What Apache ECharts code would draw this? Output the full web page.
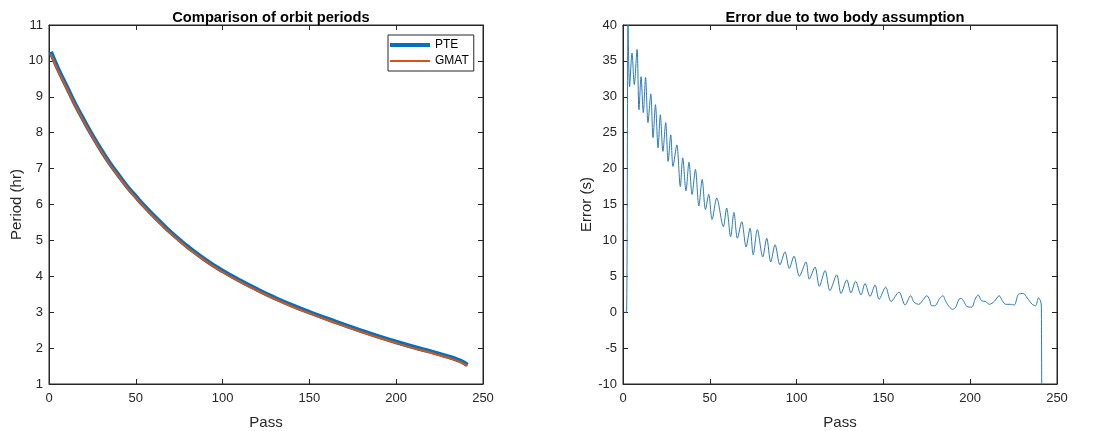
<!DOCTYPE html>
<html>
<head>
<meta charset="utf-8">
<script src="https://cdn.jsdelivr.net/npm/echarts@6/dist/echarts.min.js"></script>
<style>
html,body{margin:0;padding:0;background:#fff;}
#chart{width:1096px;height:431px;}
</style>
</head>
<body>
<div id="chart"></div>
<script>
// ---- Left plot: orbit period (hr) vs pass ----
const periodPass = [1, 5, 10, 15, 20, 25, 30, 35, 40, 45, 50, 55, 60, 65, 70, 75, 80, 90, 100, 110, 120, 130, 140, 150, 160, 170, 180, 190, 200, 210, 220, 225, 230, 235, 238, 241];
const pteValues  = [10.25, 9.8, 9.3, 8.8, 8.35, 7.92, 7.52, 7.15, 6.82, 6.5, 6.22, 5.95, 5.7, 5.46, 5.23, 5.02, 4.82, 4.46, 4.15, 3.88, 3.63, 3.4, 3.19, 3.0, 2.82, 2.65, 2.48, 2.32, 2.17, 2.03, 1.9, 1.83, 1.76, 1.68, 1.62, 1.53];
const gmatValues = [10.19, 9.75, 9.26, 8.77, 8.32, 7.89, 7.49, 7.12, 6.79, 6.47, 6.19, 5.92, 5.67, 5.43, 5.2, 4.99, 4.79, 4.43, 4.12, 3.85, 3.6, 3.37, 3.16, 2.97, 2.79, 2.62, 2.45, 2.29, 2.14, 2.0, 1.87, 1.8, 1.73, 1.65, 1.59, 1.5];

// ---- Right plot: error (s) vs pass ----
const errPass = [1, 2, 2.9, 3.8, 5.2, 6.5, 8.1, 9.2, 10.4, 11.7, 13, 14.4, 16, 17.3, 18.7, 20.2, 21.5, 23, 24.6, 26, 27.5, 28.8, 31, 33, 34.4, 36.3, 38, 39.8, 41.7, 43.7, 45.6, 47.5, 49.4, 51.3, 54, 57.8, 59.7, 62, 63.9, 65.9, 68.4, 70.9, 73.2, 75, 77.4, 80.5, 82.8, 85.1, 87.6, 90.4, 93.3, 95.8, 98.5, 101.6, 105.4, 107.3, 110.6, 113.1, 116.4, 119.2, 123.1, 125.6, 128.9, 131.3, 134, 137.1, 139.4, 142.3, 145.2, 147.5, 151.3, 154.4, 159, 162.5, 165.7, 167.6, 170.4, 173.1, 175, 176.5, 177.8, 179.6, 182.4, 184.3, 186.1, 189.8, 191.7, 193.5, 195, 196.3, 198.1, 200.9, 202.8, 204.6, 206.5, 208.7, 211.1, 213.9, 216.7, 218.5, 220.4, 223.1, 225.4, 227.8, 230.6, 232.8, 235.7, 237.6, 239.4, 240.7, 241, 241.2];
const errValues = [0, 0, 40, 31.4, 36.1, 31.7, 36.6, 28.2, 32.8, 27.8, 32.7, 26.4, 30.4, 24.3, 28.9, 22.9, 27.5, 22.4, 26.4, 21, 24.7, 20.3, 23.3, 17.5, 21.5, 16.9, 20.9, 16.4, 19.9, 14.8, 18.5, 14.3, 16.4, 12.9, 15.9, 11.9, 14.5, 10.5, 13.9, 10.3, 12.6, 9.1, 11.7, 8, 11.5, 7.7, 10.3, 7.0, 9.4, 6.6, 8.4, 6.1, 7.8, 5.0, 7.0, 4.6, 6.3, 3.6, 5.8, 3.0, 5.2, 2.6, 4.5, 2.7, 4.3, 2.4, 4.0, 2.2, 3.8, 1.8, 3.5, 1.5, 2.8, 1.0, 2.3, 1.4, 1.1, 1.8, 2.3, 1.8, 0.9, 0.9, 1.9, 2.3, 1.4, 0.4, 0.7, 1.8, 1.9, 1.5, 0.8, 0.7, 1.8, 2.4, 1.6, 1.5, 1.1, 1.5, 2.3, 1.6, 1.1, 1.1, 1.0, 2.5, 2.6, 2.0, 1.1, 0.9, 2.0, 1.4, 0.6, -12];

// ---- Tick settings ----
const passTicks = {min: 0, max: 250, interval: 50};
const periodTicks = {min: 1, max: 11, interval: 1};
const errTicks = {min: -10, max: 40, interval: 5};

const FONT = 'Liberation Sans, Arial, sans-serif';
const AX = '#262626';

function pairs(xs, ys) { return xs.map((x, i) => [x, ys[i]]); }

function xAx(grid, pos, ticks, showLabel) {
  return {
    type: 'value', gridIndex: grid, position: pos,
    min: ticks.min, max: ticks.max, interval: ticks.interval,
    axisLine: {show: true, onZero: false, lineStyle: {color: AX, width: 1}},
    axisTick: {show: true, inside: true, length: 5, lineStyle: {color: AX}},
    splitLine: {show: false},
    axisLabel: {show: showLabel, fontSize: 13, color: AX, fontFamily: FONT, margin: 8},
    name: showLabel ? 'Pass' : '', nameLocation: 'middle', nameGap: 31,
    nameTextStyle: {fontSize: 15, color: AX, fontFamily: FONT}
  };
}
function yAx(grid, pos, ticks, showLabel, name, gap) {
  return {
    type: 'value', gridIndex: grid, position: pos,
    min: ticks.min, max: ticks.max, interval: ticks.interval,
    axisLine: {show: true, onZero: false, lineStyle: {color: AX, width: 1}},
    axisTick: {show: true, inside: true, length: 5, lineStyle: {color: AX}},
    splitLine: {show: false},
    axisLabel: {show: showLabel, fontSize: 13, color: AX, fontFamily: FONT, margin: 6},
    name: showLabel ? name : '', nameLocation: 'middle', nameGap: gap,
    nameTextStyle: {fontSize: 15, color: AX, fontFamily: FONT}
  };
}

const chart = echarts.init(document.getElementById('chart'), null, {renderer: 'canvas'});
chart.setOption({
  backgroundColor: '#ffffff',
  animation: false,
  title: [
    {text: 'Comparison of orbit periods', left: 266, top: 5, textAlign: 'center',
     textStyle: {fontSize: 14.7, fontWeight: 'bold', color: '#000', fontFamily: FONT}},
    {text: 'Error due to two body assumption', left: 840, top: 5, textAlign: 'center',
     textStyle: {fontSize: 14.7, fontWeight: 'bold', color: '#000', fontFamily: FONT}}
  ],
  legend: {
    data: [
      {name: 'PTE', icon: 'path://M0 0H40V4H0Z'},
      {name: 'GMAT', icon: 'path://M0 0L0.01 0Z M0 1H40V3H0Z M0 4L0.01 4Z'}
    ],
    orient: 'vertical', left: 388, top: 35,
    itemWidth: 40, itemHeight: 4, itemGap: 4,
    padding: [4, 5, 4, 2],
    borderColor: AX, borderWidth: 1, backgroundColor: '#fff',
    textStyle: {fontSize: 12, color: '#000', fontFamily: FONT},
    selectedMode: false
  },
  grid: [
    {left: 49, top: 25, width: 434, height: 359, show: true, borderColor: AX, borderWidth: 1, backgroundColor: '#fff', containLabel: false, outerBoundsMode: 'none'},
    {left: 623, top: 25, width: 434, height: 359, show: true, borderColor: AX, borderWidth: 1, backgroundColor: '#fff', containLabel: false, outerBoundsMode: 'none'}
  ],
  xAxis: [
    xAx(0, 'bottom', passTicks, true),
    xAx(0, 'top', passTicks, false),
    xAx(1, 'bottom', passTicks, true),
    xAx(1, 'top', passTicks, false)
  ],
  yAxis: [
    yAx(0, 'left', periodTicks, true, 'Period (hr)', 24),
    yAx(0, 'right', periodTicks, false, '', 0),
    yAx(1, 'left', errTicks, true, 'Error (s)', 28),
    yAx(1, 'right', errTicks, false, '', 0)
  ],
  series: [
    {name: 'PTE', type: 'line', xAxisIndex: 0, yAxisIndex: 0, data: pairs(periodPass, pteValues),
     smooth: true, showSymbol: false, symbol: 'none',
     lineStyle: {color: '#0072BD', width: 4.5}, itemStyle: {color: '#0072BD'}},
    {name: 'GMAT', type: 'line', xAxisIndex: 0, yAxisIndex: 0, data: pairs(periodPass, gmatValues),
     smooth: true, showSymbol: false, symbol: 'none',
     lineStyle: {color: '#D95319', width: 2}, itemStyle: {color: '#D95319'}},
    {name: 'Error', type: 'line', xAxisIndex: 2, yAxisIndex: 2, data: pairs(errPass, errValues),
     smooth: 0.3, showSymbol: false, symbol: 'none', clip: true,
     lineStyle: {color: '#2a7ab8', width: 1}, itemStyle: {color: '#2a7ab8'}}
  ]
});
</script>
</body>
</html>
